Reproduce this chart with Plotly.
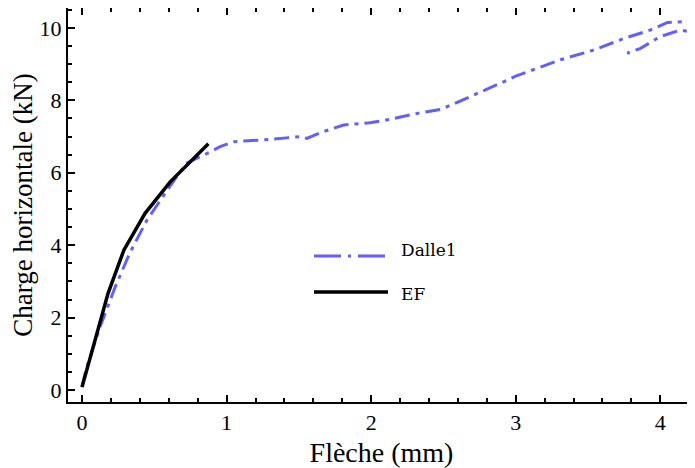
import plotly.graph_objects as go

# Data
dalle_x = [0.0, 0.03, 0.125, 0.23, 0.33, 0.45, 0.59, 0.72, 0.89, 0.955, 1.05, 1.30, 1.51, 1.555,
           1.65, 1.81, 1.99, 2.085, 2.32, 2.48, 2.57, 2.75, 2.92, 3.0, 3.31, 3.54, 3.75, 3.93,
           4.05, 4.16, 4.21, 4.23, 4.20, 4.14, 4.0, 3.86, 3.77]
dalle_y = [0.1, 0.6, 1.75, 2.85, 3.78, 4.7, 5.52, 6.26, 6.58, 6.72, 6.86, 6.92, 7.0, 6.95,
           7.11, 7.32, 7.38, 7.44, 7.64, 7.75, 7.9, 8.21, 8.52, 8.67, 9.12, 9.39, 9.71, 9.94,
           10.15, 10.17, 10.25, 10.0, 9.9, 9.94, 9.76, 9.43, 9.3]

ef_x = [0.0, 0.18, 0.29, 0.436, 0.61, 0.874]
ef_y = [0.08, 2.67, 3.87, 4.88, 5.75, 6.8]

series_names = ["Dalle1", "EF"]
blue = "rgb(96,96,255)"
font = "Liberation Serif"

fig = go.Figure()
fig.add_trace(go.Scatter(x=dalle_x, y=dalle_y, mode="lines", name=series_names[0],
                         line=dict(color=blue, width=3, dash="15px,6px,4px,6px"),
                         showlegend=False))
fig.add_trace(go.Scatter(x=ef_x, y=ef_y, mode="lines", name=series_names[1],
                         line=dict(color="black", width=3.5), showlegend=False))

# Custom legend (page pixel -> paper coords; the page has an 8px body margin)
def pxx(p):
    return (p - 68) / 627.0

def pxy(p):
    return (402 - p) / 394.0

legend_rows = [(series_names[0], 256, 250, dict(color=blue, width=3, dash="27px,7px,3px,7px")),
               (series_names[1], 292, 294, dict(color="black", width=3.5))]
for name, py, ty, ln in legend_rows:
    fig.add_shape(type="line", xref="paper", yref="paper",
                  x0=pxx(314), x1=pxx(388), y0=pxy(py), y1=pxy(py), line=ln)
    fig.add_annotation(xref="paper", yref="paper", x=pxx(399), y=pxy(ty),
                       text=name, showarrow=False, xanchor="left", yanchor="middle",
                       font=dict(family="DejaVu Serif", size=17, color="black"))

fig.update_layout(
    width=687, height=460,
    margin=dict(l=60, r=0, t=0, b=66),
    paper_bgcolor="white", plot_bgcolor="white",
    font=dict(family=font, color="black"),
)
fig.update_xaxes(
    automargin=False,
    range=[-0.097, 4.24], showgrid=False, zeroline=False,
    showline=True, linecolor="black", linewidth=2, mirror="ticks",
    ticks="inside", ticklen=7, tickwidth=1.5, tickcolor="black",
    tickvals=[0, 1, 2, 3, 4], tickfont=dict(family=font, size=22),
    minor=dict(ticks="inside", ticklen=4, tickwidth=1.5, tickcolor="black", dtick=0.2),
    title=dict(text="Flèche (mm)", font=dict(family=font, size=28), standoff=9),
)
fig.update_yaxes(
    automargin=False,
    range=[-0.33, 10.55], showgrid=False, zeroline=False,
    showline=True, linecolor="black", linewidth=2, mirror=False,
    ticks="inside", ticklen=7, tickwidth=1.5, tickcolor="black",
    tickvals=[0, 2, 4, 6, 8, 10], tickfont=dict(family=font, size=22),
    minor=dict(ticks="inside", ticklen=4, tickwidth=1.5, tickcolor="black", dtick=0.5),
    title=dict(text="Charge horizontale (kN)", font=dict(family=font, size=27), standoff=3),
)

fig.write_html("out.html")
